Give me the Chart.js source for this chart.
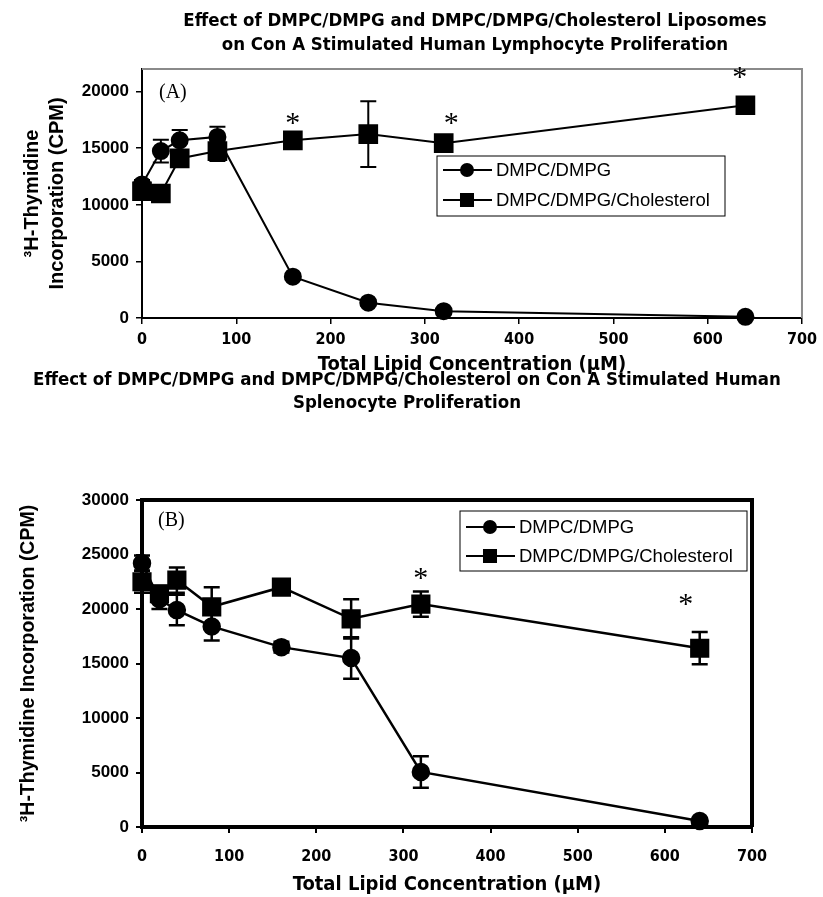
<!DOCTYPE html>
<html>
<head>
<meta charset="utf-8">
<script src="https://cdn.jsdelivr.net/npm/chart.js@4.4.1/dist/chart.umd.min.js"></script>
<style>
  body { margin: 0; background: #fff; width: 823px; height: 897px; position: relative; overflow: hidden; }
  canvas { position: absolute; left: 0; }
  #chartA { top: 0; }
  #chartB { top: 360px; }
</style>
</head>
<body>
<canvas id="chartA" width="823" height="385"></canvas>
<canvas id="chartB" width="823" height="537"></canvas>
<script>
// lipid concentrations (uM), shared by both panels
const conc = [0, 20, 40, 80, 160, 240, 320, 640];
const seriesNames = ['DMPC/DMPG', 'DMPC/DMPG/Cholesterol'];

// (A) lymphocytes
const lymphLipid     = [11800, 14750, 15700, 16000, 3650, 1350, 600, 100];
const lymphLipidErr  = [400, 1000, 900, 900, 250, 250, 150, 0];
const lymphChol      = [11200, 11000, 14100, 14750, 15700, 16250, 15450, 18800];
const lymphCholErr   = [500, 300, 500, 880, 300, 2900, 300, 300];
const lymphStarX     = [160, 328, 634];
const lymphStarY     = [17700, 17700, 21700];
const lymphYTicks    = [0, 5000, 10000, 15000, 20000];

// (B) splenocytes
const splenLipid     = [24200, 20900, 19900, 18400, 16500, 15500, 5050, 550];
const splenLipidErr  = [700, 900, 1400, 1300, 500, 1900, 1450, 0];
const splenChol      = [22500, 21400, 22650, 20200, 22000, 19100, 20450, 16400];
const splenCholErr   = [1000, 700, 1150, 1800, 600, 1800, 1150, 1480];
const splenStarX     = [320, 624];
const splenStarY     = [23300, 20900];
const splenYTicks    = [0, 5000, 10000, 15000, 20000, 25000, 30000];

const xTicks = [0, 100, 200, 300, 400, 500, 600, 700];

const NARROW = "'Liberation Sans Narrow', 'DejaVu Sans Condensed', 'Liberation Sans', Arial, sans-serif";
const SANS = "'Liberation Sans', Arial, sans-serif";
const SERIF = "'Liberation Serif', 'Times New Roman', serif";

function pts(ys) {
    return conc.map((x, i) => ({x: x, y: ys[i]}));
}

// extra drawing: titles, frame, error bars, stars, panel label, boxed legend
function decor(cfg) {
    return {
        id: 'decor',
        beforeDatasetsDraw(chart) {
            const ctx = chart.ctx;
            const xs = chart.scales.x, ys = chart.scales.y;
            const a = chart.chartArea;
            ctx.save();
            // frame on top and right
            ctx.strokeStyle = cfg.frameColor;
            ctx.lineWidth = cfg.frameWidth;
            ctx.beginPath();
            ctx.moveTo(a.left, a.top);
            ctx.lineTo(a.right, a.top);
            ctx.lineTo(a.right, a.bottom);
            ctx.stroke();
            // error bars
            ctx.strokeStyle = '#000';
            ctx.lineWidth = cfg.errWidth;
            cfg.errors.forEach((errs, d) => {
                const vals = chart.data.datasets[d].data;
                vals.forEach((p, i) => {
                    const e = errs[i];
                    if (!e) return;
                    const px = xs.getPixelForValue(p.x);
                    const t = ys.getPixelForValue(p.y + e);
                    const b = ys.getPixelForValue(p.y - e);
                    ctx.beginPath();
                    ctx.moveTo(px, t); ctx.lineTo(px, b);
                    ctx.moveTo(px - cfg.cap, t); ctx.lineTo(px + cfg.cap, t);
                    ctx.moveTo(px - cfg.cap, b); ctx.lineTo(px + cfg.cap, b);
                    ctx.stroke();
                });
            });
            ctx.restore();
        },
        afterDraw(chart) {
            const ctx = chart.ctx;
            const xs = chart.scales.x, ys = chart.scales.y;
            ctx.save();
            ctx.fillStyle = '#000';
            // title
            ctx.font = 'bold 18.5px ' + NARROW;
            ctx.textAlign = 'center';
            ctx.textBaseline = 'middle';
            cfg.title.forEach((line, i) => ctx.fillText(line, cfg.titleX, cfg.titleY[i]));
            // significance stars
            ctx.font = '30px ' + SERIF;
            ctx.textBaseline = 'alphabetic';
            cfg.starX.forEach((sx, i) => {
                ctx.fillText('*', xs.getPixelForValue(sx), ys.getPixelForValue(cfg.starY[i]) + 14);
            });
            // panel label
            ctx.font = '20px ' + SERIF;
            ctx.textAlign = 'left';
            ctx.textBaseline = 'middle';
            ctx.fillText(cfg.panel, cfg.panelX, cfg.panelY);
            // legend
            const L = cfg.legend;
            ctx.strokeStyle = '#000';
            ctx.lineWidth = 1;
            ctx.strokeRect(L.x, L.y, L.w, L.h);
            chart.data.datasets.forEach((ds, i) => {
                const ry = L.y + L.row0 + i * L.rowGap;
                ctx.lineWidth = 2;
                ctx.beginPath();
                ctx.moveTo(L.x + 6, ry);
                ctx.lineTo(L.x + 55, ry);
                ctx.stroke();
                Chart.helpers.drawPoint(ctx, {
                    pointStyle: ds.pointStyle, radius: ds.pointStyle === 'rect' ? 8.5 : 6,
                    rotation: 0, borderWidth: 1
                }, L.x + 30, ry);
                ctx.font = '18.5px ' + SANS;
                ctx.textAlign = 'left';
                ctx.fillText(ds.label, L.x + 59, ry + 1);
            });
            ctx.restore();
        }
    };
}

function makeChart(id, lipid, chol, opt) {
    const lineW = opt.lineWidth;
    return new Chart(document.getElementById(id), {
        type: 'line',
        data: {
            datasets: [{
                label: seriesNames[0],
                data: pts(lipid),
                borderColor: '#000',
                backgroundColor: '#000',
                borderWidth: lineW,
                pointStyle: 'circle',
                pointRadius: 8,
                pointBackgroundColor: '#000',
                pointBorderColor: '#000',
                clip: false
            }, {
                label: seriesNames[1],
                data: pts(chol),
                borderColor: '#000',
                backgroundColor: '#000',
                borderWidth: lineW,
                pointStyle: 'rect',
                pointRadius: opt.squareR,
                pointBackgroundColor: '#000',
                pointBorderColor: '#000',
                clip: false
            }]
        },
        options: {
            responsive: false,
            animation: false,
            devicePixelRatio: 1,
            layout: { padding: opt.padding },
            plugins: {
                legend: { display: false },
                tooltip: { enabled: false }
            },
            scales: {
                x: {
                    type: 'linear',
                    min: 0,
                    max: xTicks[xTicks.length - 1],
                    afterBuildTicks(s) { s.ticks = xTicks.map(v => ({value: v})); },
                    ticks: {
                        color: '#000',
                        padding: opt.xTickPad,
                        maxRotation: 0,
                        callback: v => String(v),
                        font: { family: NARROW, size: 16, weight: 'bold' }
                    },
                    grid: { drawOnChartArea: false, tickLength: 6, color: '#000', lineWidth: opt.tickWidth },
                    border: { color: '#000', width: opt.axisWidth },
                    title: {
                        display: true,
                        text: 'Total Lipid Concentration (\u03bcM)',
                        color: '#000',
                        padding: { top: 0, bottom: opt.xTitlePad },
                        font: { family: NARROW, size: 20, weight: 'bold', lineHeight: 1.1 }
                    },
                    afterFit(s) { s.height = opt.xHeight; }
                },
                y: {
                    min: 0,
                    max: opt.yMax,
                    afterBuildTicks(s) { s.ticks = opt.yTicks.map(v => ({value: v})); },
                    ticks: {
                        color: '#000',
                        padding: 7,
                        callback: v => String(v),
                        font: { family: SANS, size: 17, weight: 'bold' }
                    },
                    grid: { drawOnChartArea: false, tickLength: 6, color: '#000', lineWidth: opt.tickWidth },
                    border: { color: '#000', width: opt.axisWidth },
                    title: {
                        display: true,
                        text: opt.yTitle,
                        color: '#000',
                        padding: { top: opt.yTitlePad, bottom: 0 },
                        font: { family: SANS, size: opt.yTitleSize, weight: 'bold', lineHeight: 1.25 }
                    },
                    afterFit(s) { s.width = opt.yWidth; }
                }
            }
        },
        plugins: [decor(opt.decor)]
    });
}

makeChart('chartA', lymphLipid, lymphChol, {
    lineWidth: 2, squareR: 12.5, tickWidth: 1.5, axisWidth: 2,
    padding: { top: 69, right: 21, bottom: 0, left: 0 },
    xHeight: 67, yWidth: 142, xTickPad: 6, xTitlePad: 9, yTitlePad: 20, yTitleSize: 20,
    yMax: 22000, yTicks: lymphYTicks,
    yTitle: ['\u00b3H-Thymidine', 'Incorporation (CPM)'],
    decor: {
        title: ['Effect of DMPC/DMPG and DMPC/DMPG/Cholesterol Liposomes',
                'on Con A Stimulated Human Lymphocyte Proliferation'],
        titleX: 475, titleY: [21, 45],
        frameColor: '#8a8a8a', frameWidth: 2,
        errors: [lymphLipidErr, lymphCholErr], errWidth: 2, cap: 8,
        starX: lymphStarX, starY: lymphStarY,
        panel: '(A)', panelX: 159, panelY: 93,
        legend: { x: 437, y: 156, w: 288, h: 60, row0: 14, rowGap: 30 }
    }
});

makeChart('chartB', splenLipid, splenChol, {
    lineWidth: 2.5, squareR: 11.8, tickWidth: 2, axisWidth: 4,
    padding: { top: 140, right: 71, bottom: 0, left: 0 },
    xHeight: 70, yWidth: 142, xTickPad: 14, xTitlePad: 1, yTitlePad: 16, yTitleSize: 19.5,
    yMax: 30000, yTicks: splenYTicks,
    yTitle: '\u00b3H-Thymidine Incorporation (CPM)',
    decor: {
        title: ['Effect of DMPC/DMPG and DMPC/DMPG/Cholesterol on Con A Stimulated Human',
                'Splenocyte Proliferation'],
        titleX: 407, titleY: [20, 43],
        frameColor: '#000', frameWidth: 4,
        errors: [splenLipidErr, splenCholErr], errWidth: 2.5, cap: 8,
        starX: splenStarX, starY: splenStarY,
        panel: '(B)', panelX: 158, panelY: 161,
        legend: { x: 460, y: 151, w: 287, h: 60, row0: 16, rowGap: 29 }
    }
});
</script>
</body>
</html>
